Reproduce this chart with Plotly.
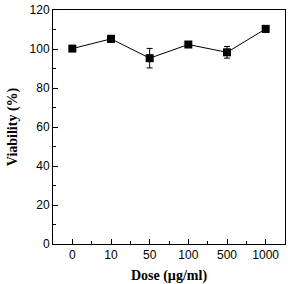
import plotly.graph_objects as go

doses = ["0", "10", "50", "100", "500", "1000"]
viability = [100.2, 105.2, 95.3, 102.3, 98.3, 110.3]
errors = [1.0, 1.8, 5.0, 1.0, 3.0, 1.8]

x_pos = list(range(len(doses)))

fig = go.Figure(go.Scatter(
    x=x_pos, y=viability,
    mode="lines+markers",
    line=dict(color="black", width=1),
    marker=dict(symbol="square", size=8, color="black"),
    error_y=dict(type="data", array=errors, visible=True, color="black", thickness=1, width=3),
    showlegend=False,
))

axis_common = dict(
    showline=True, linecolor="black", linewidth=1, mirror=True,
    ticks="inside", tickcolor="black", ticklen=5, tickwidth=1,
    showgrid=False, zeroline=False,
    tickfont=dict(family="Liberation Sans", size=12, color="black"),
)

title_font = dict(family="Liberation Serif", size=14, color="black")

fig.update_xaxes(
    **axis_common,
    range=[-0.5, 5.5],
    tickmode="array", tickvals=x_pos, ticktext=doses,
    minor=dict(ticks="inside", ticklen=3, tickcolor="black", dtick=0.5, tick0=0.5, showgrid=False),
    title=dict(text="<b>Dose (µg/ml)</b>", font=title_font, standoff=9),
)
fig.update_yaxes(
    **axis_common,
    range=[0, 120], dtick=20, tick0=0,
    minor=dict(ticks="inside", ticklen=3, tickcolor="black", dtick=10, showgrid=False),
    title=dict(text="<b>Viability (%)</b>", font=title_font, standoff=8),
)

fig.update_layout(
    width=288, height=284,
    margin=dict(l=53, r=3, t=10, b=40),
    paper_bgcolor="white", plot_bgcolor="white",
    font=dict(family="Liberation Sans", color="black"),
)

fig.write_html("out.html")
